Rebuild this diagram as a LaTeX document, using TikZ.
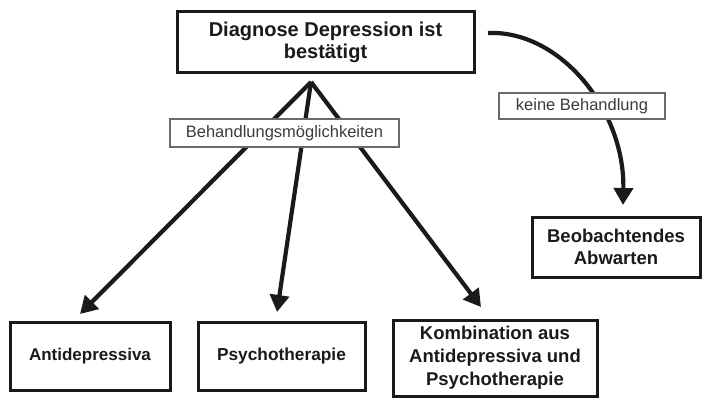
\documentclass[tikz,border=0pt]{standalone}
\usepackage{fontspec}
\setmainfont{Liberation Sans}
\usetikzlibrary{arrows.meta}
\definecolor{ink}{HTML}{1A1A1A}
\definecolor{lblgray}{HTML}{6A6A6A}
\tikzset{
  bigbox/.style={draw=ink, line width=3pt, fill=white, align=center, text=ink,
    font=\bfseries\fontsize{17}{22}\selectfont, inner sep=2pt},
  lblbox/.style={draw=lblgray, line width=1.2pt, fill=white, text=ink!85,
    font=\fontsize{16.5}{19}\selectfont, inner sep=2pt},
  arr/.style={draw=ink, line width=4.2pt, -{Triangle[length=17pt,width=19pt]}}
}
\begin{document}
\begin{tikzpicture}[x=1pt,y=-1pt]
\useasboundingbox (0,0) rectangle (706,401);
% boxes
\node[bigbox, minimum width=297pt, minimum height=61pt, font=\bfseries\fontsize{20}{22}\selectfont] (top) at (325.5,42.5) {Diagnose Depression ist\\bestätigt};
\node[bigbox, minimum width=168pt, minimum height=60pt, font=\bfseries\fontsize{18.5}{22}\selectfont] (beo) at (616,247) {Beobachtendes\\Abwarten};
\node[bigbox, minimum width=160pt, minimum height=68pt] (anti) at (90,356) {Antidepressiva};
\node[bigbox, minimum width=167pt, minimum height=68pt, font=\bfseries\fontsize{17.3}{22}\selectfont] (psy) at (281.5,356) {Psychotherapie};
\node[bigbox, minimum width=204pt, minimum height=76pt, font=\bfseries\fontsize{18.5}{23}\selectfont] (kombi) at (495,358) {Kombination aus\\Antidepressiva und\\Psychotherapie};
% connector ends
\coordinate (o) at (311,82);
\coordinate (tA) at (80,314);
\coordinate (tP) at (277,312);
\coordinate (tK) at (481,307);
\coordinate (s) at (488,33);
\coordinate (tB) at (623,205);
% arrows
\draw[arr] (o) -- (tA);
\draw[arr] (o) -- (tP);
\draw[arr] (o) -- (tK);
\draw[arr] (s) .. controls (560,30) and (625,110) .. (tB);
% labels
\node[lblbox, minimum width=229pt, minimum height=28pt] (beh) at (284.5,133) {Behandlungsmöglichkeiten};
\node[lblbox, minimum width=166pt, minimum height=26pt] (keine) at (582,106) {keine Behandlung};
\end{tikzpicture}
\end{document}
